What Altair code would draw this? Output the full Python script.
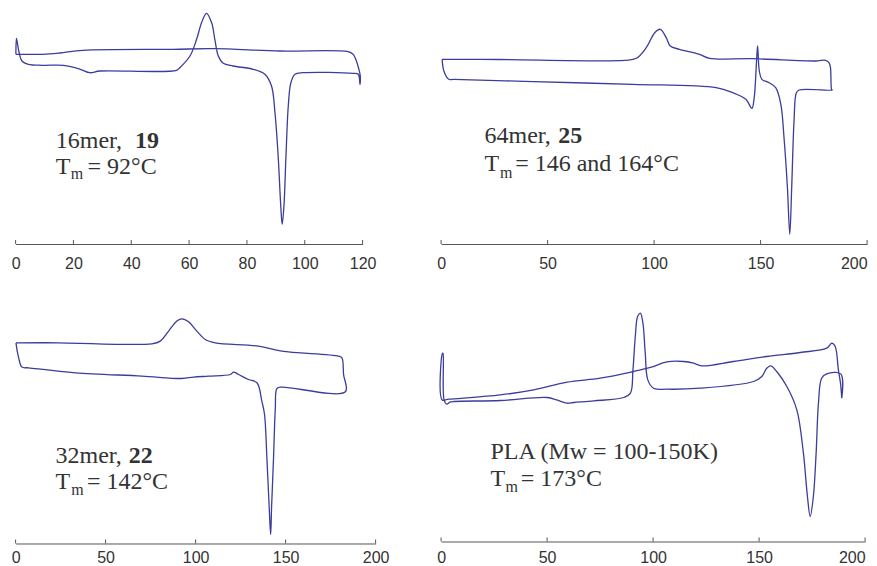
import altair as alt
import pandas as pd

# ---------- data (temperature in °C, heat flow in arbitrary units) ----------
# Panel 1: 16mer, 19
p1_temp = [0.1, 0.3, 1.1, 2.2, 4.4, 9.4, 16.5, 22.2, 25.7, 29.1, 55.7, 56.8, 60.3, 62.6, 64.3,
           66.0, 67.8, 68.9, 70.1, 71.8, 75.2, 82.2, 86.2, 88.5, 89.7, 90.8, 91.7, 92.2, 92.8, 93.5,
           94.3, 95.2, 96.6, 99.4, 116.7, 118.5, 119.1, 119.2, 118.7, 117.3, 116.7, 115.0, 91.4, 68.3, 54.4,
           23.4, 15.3, 9.4, 0.1]
p1_heat = [189.7, 205.7, 193, 183, 179.7, 178.7, 178.7, 175, 171.3, 173, 173.7, 176.3, 188, 204.7, 221.3,
           230.7, 221.3, 204.7, 188, 180.7, 178, 174.7, 169.7, 158, 131.3, 88, 38, 19.7, 38, 88,
           138, 161.3, 169.7, 171.3, 170.7, 169.7, 159.7, 168, 175, 187, 189.7, 192.3, 193, 195.3, 194.7,
           193.7, 191, 189.7, 189.7]
p1_ticks = [0, 20, 40, 60, 80, 100, 120]

# Panel 2: 64mer, 25
p2_temp = [0.5, 27.0, 86.2, 91.7, 96.3, 100.3, 102.9, 105.7, 107.6, 111.9, 121.3, 126.0, 146.2, 175.8, 180.5,
           182.1, 182.8, 183.3, 183.6, 168.1, 166.8, 165.7, 164.6, 163.7, 162.6, 161.0, 159.5, 157.1, 154.0, 150.6,
           149.4, 148.6, 148.1, 147.0, 145.9, 143.1, 136.9, 129.1, 90.1, 43.3, 5.9, 3.6, 1.3, 0.5]
p2_heat = [184.7, 184.5, 183.7, 185.7, 196.3, 211.3, 214.7, 206.3, 198, 194.7, 189.7, 185.7, 185.3, 183, 183.7,
           181.3, 176.3, 154.7, 154, 154, 151.3, 123, 56.3, 9.7, 56.3, 106.3, 139.7, 156.3, 161.3, 164.7,
           173, 198, 183, 146.3, 135.7, 144.7, 151.3, 156.3, 159.7, 162.3, 164.7, 164.7, 173, 184.7]
p2_ticks = [0, 50, 100, 150, 200]

# Panel 3: 32mer, 22
p3_temp = [0.2, 23.9, 75.7, 80.4, 85.0, 89.6, 92.4, 96.1, 100.7, 105.4, 110.9, 135.0, 147.9, 179.4, 181.3,
           182.2, 183.2, 147.9, 145.2, 144.3, 143.3, 142.2, 141.7, 140.9, 139.6, 138.3, 136.8, 134.1, 129.4, 123.9,
           121.1, 119.3, 107.2, 98.9, 92.4, 70.2, 33.2, 7.2, 3.5, 1.7, 0.2]
p3_heat = [200.7, 200.7, 199.7, 202.4, 212.4, 222.4, 224.7, 221.7, 212.4, 204, 200.7, 197.4, 192.4, 187.4, 185.7,
           169, 151.7, 156.4, 155, 135.7, 85.7, 35.7, 9, 35.7, 85.7, 129, 142.4, 160.7, 164, 169,
           171.4, 169, 167.4, 166.4, 165, 167.4, 170.7, 175.7, 176.4, 185.7, 200.7]
p3_ticks = [0, 50, 100, 150, 200]

# Panel 4: PLA
p4_temp = [189.0, 188.4, 187.4, 185.9, 184.3, 181.9, 169.4, 153.6, 137.9, 123.0, 119.1, 114.4, 106.5, 98.7, 90.8,
           75.1, 59.4, 43.7, 28.0, 3.6, 0.5, 0.7, 0.9, 1.4, 2.7, 4.1, 6.0, 28.0, 50.0, 54.5,
           59.4, 62.5, 72.0, 86.1, 89.3, 90.5, 91.6, 92.7, 94.0, 95.2, 96.3, 97.5, 100.2, 106.5, 122.2,
           147.4, 151.3, 153.6, 155.5, 158.3, 163.1, 167.8, 170.9, 172.8, 174.1, 175.6, 176.9, 178.0, 179.5, 181.9,
           188.5, 189.0]
p4_heat = [143.3, 158.3, 171.6, 195, 198.3, 193.3, 189, 185, 180, 175.6, 178.3, 180, 179.6, 174, 170,
           163.3, 159.3, 151.6, 146.6, 142.3, 141.6, 188.3, 188.3, 141.6, 137.3, 139.3, 140, 141, 144, 141.6,
           138.3, 139, 140.6, 144, 148.3, 171.6, 205, 225, 228.3, 218.3, 188.3, 161.6, 153.3, 152.3, 153.3,
           160, 165, 173.3, 175.6, 170, 155, 131.6, 88.3, 45, 25, 45, 88.3, 138.3, 163.3, 167.6,
           167.6, 143.3]
p4_ticks = [0, 50, 100, 150, 200]

# annotation texts
p1_text = ["16mer,", "19", "T", "m", "= 92°C"]
p2_text = ["64mer,", "25", "T", "m", "= 146 and 164°C"]
p3_text = ["32mer,", "22", "T", "m", "= 142°C"]
p4_text = ["PLA (Mw = 100-150K)", "T", "m", "= 173°C"]

# annotation anchors (data units) and kinds
p1_note_t = [13.9, 41.3, 13.9, 19.1, 24.9]
p1_note_h = [96.3, 96.3, 69.7, 64.7, 69.7]
p2_note_t = [20.4, 55.0, 20.4, 27.7, 34.8]
p2_note_h = [101.3, 101.3, 73, 66.3, 73]
p3_note_t = [22.2, 62.9, 22.2, 30.9, 39.6]
p3_note_h = [80.7, 80.7, 54, 48, 54]
p4_note_t = [23.3, 23.3, 30.4, 37.6]
p4_note_h = [82.6, 55, 49, 55]
kinds_a = ["normal", "bold", "normal", "sub", "normal"]
kinds_b = ["normal", "normal", "sub", "normal"]

LINE_COLOR = "#3c3c9c"
TEXT_COLOR = "#333333"
AXIS_COLOR = "#555555"


def make_panel(temp, heat, ticks, xmax, w, h, texts, nt, nh, kinds, flush_last, lab_pad):
    df = pd.DataFrame({"T": temp, "S": heat, "i": list(range(len(temp)))})
    tick_df = pd.DataFrame({"T": ticks})
    notes = pd.DataFrame({"T": nt, "S": nh, "text": texts, "kind": kinds})

    if flush_last:
        label_align = {"condition": {"test": f"datum.value >= {xmax}", "value": "right"}, "value": "center"}
    else:
        label_align = "center"
    axis = alt.Axis(values=ticks, title=None, ticks=False, labelFontSize=16,
                    labelFont="Liberation Sans", labelColor=TEXT_COLOR, labelPadding=lab_pad,
                    labelFlush=False, labelOverlap=False, labelAlign=label_align,
                    domainColor=AXIS_COLOR, domainWidth=1, grid=False, format="d")
    xscale = alt.Scale(domain=[0, xmax], nice=False, zero=False)
    x = alt.X("T:Q", scale=xscale, axis=axis)
    y = alt.Y("S:Q", scale=alt.Scale(domain=[0, h], nice=False, zero=False), axis=None)

    line = alt.Chart(df).mark_line(color=LINE_COLOR, strokeWidth=1.3, interpolate="catmull-rom").encode(
        x=x, y=y, order="i:Q")
    tick = alt.Chart(tick_df).mark_rule(color=AXIS_COLOR, strokeWidth=1).encode(
        x=x, y=alt.value(h - 4), y2=alt.value(h))
    base = alt.Chart(notes).encode(x=x, y=y, text="text:N")
    normal = base.transform_filter("datum.kind == 'normal'").mark_text(
        font="Liberation Serif", fontSize=24, align="left", baseline="alphabetic", color=TEXT_COLOR)
    bold = base.transform_filter("datum.kind == 'bold'").mark_text(
        font="Liberation Serif", fontSize=24, fontWeight="bold", align="left", baseline="alphabetic",
        color=TEXT_COLOR)
    sub = base.transform_filter("datum.kind == 'sub'").mark_text(
        font="Liberation Serif", fontSize=16, align="left", baseline="alphabetic", color=TEXT_COLOR)
    return alt.layer(line, tick, normal, bold, sub).properties(width=w, height=h)


c1 = make_panel(p1_temp, p1_heat, p1_ticks, 120, 347, 232, p1_text, p1_note_t, p1_note_h, kinds_a, False, 11)
c2 = make_panel(p2_temp, p2_heat, p2_ticks, 200, 426, 232, p2_text, p2_note_t, p2_note_h, kinds_a, True, 11)
c3 = make_panel(p3_temp, p3_heat, p3_ticks, 200, 360, 234, p3_text, p3_note_t, p3_note_h, kinds_a, False, 6)
c4 = make_panel(p4_temp, p4_heat, p4_ticks, 200, 424, 232, p4_text, p4_note_t, p4_note_h, kinds_b, True, 8)

chart = alt.concat(
    c1, c2, c3, c4, columns=2, spacing=65.5, align="each", bounds="flush"
).properties(
    padding={"left": 2.6, "top": 2, "right": 0, "bottom": 0},
    background="white",
).configure_view(stroke=None)

chart.save("out.html", embed_options={"renderer": "svg", "actions": False})
